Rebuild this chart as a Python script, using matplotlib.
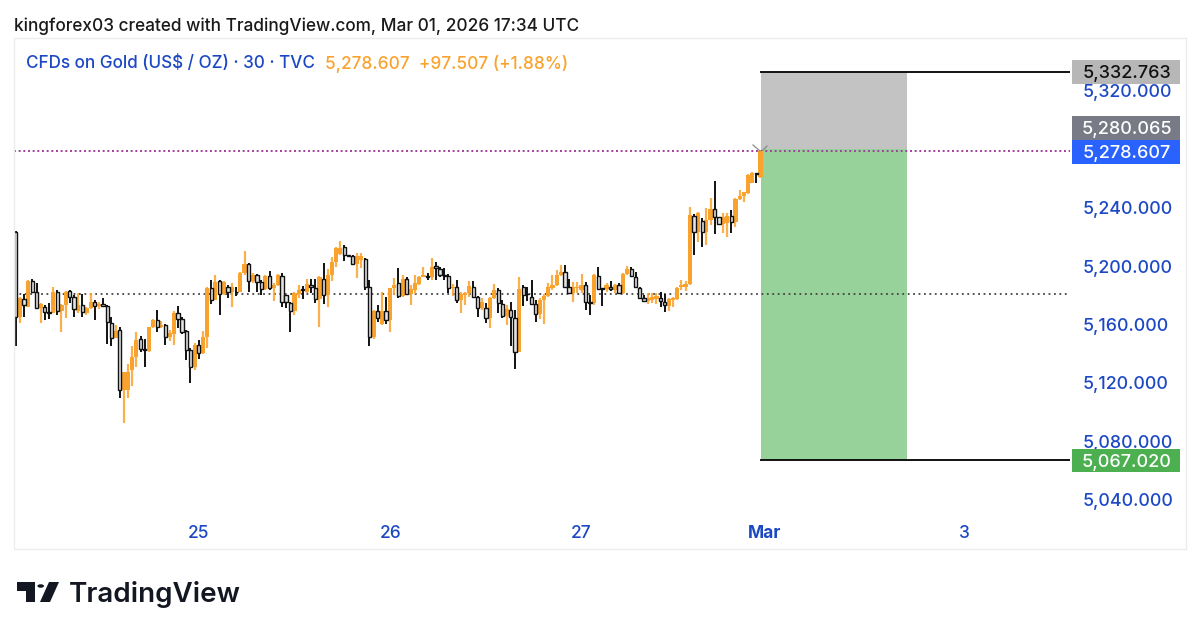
import matplotlib.pyplot as plt
from matplotlib.patches import Rectangle, Polygon, Circle

plt.rcParams["font.family"] = ["Inter", "DejaVu Sans"]

# 30 minute bars
opens = [5223.7, 5165.5, 5177.3, 5172.3, 5189.7, 5182, 5171.5, 5172, 5168.5, 5168,
         5182, 5169, 5173.5, 5183.3, 5178.7, 5169.4, 5173.2, 5168.2, 5171.2, 5175.5,
         5172.4, 5174.2, 5172.8, 5161, 5150.6, 5156, 5115, 5115, 5129, 5138,
         5150, 5143.3, 5142, 5158, 5163.2, 5158.6, 5159.5, 5151.3, 5153.6, 5167.8,
         5164, 5155.4, 5142.6, 5131.2, 5146, 5140.4, 5151.8, 5185, 5177, 5190,
         5181, 5186, 5182, 5182.6, 5182.6, 5195.6, 5201.5, 5190, 5194, 5189.4,
         5184.4, 5193, 5185, 5187.2, 5193.3, 5180.4, 5174.6, 5169, 5181, 5184.4,
         5182.6, 5187.2, 5184.9, 5177.6, 5191, 5180.3, 5194, 5203, 5208, 5213.4,
         5207.7, 5207, 5201.5, 5204.3, 5204.7, 5185.6, 5151.8, 5169, 5160.5, 5169.6,
         5163.2, 5184.9, 5188.3, 5179.6, 5191, 5181, 5183.7, 5187.9, 5192.9, 5193.3,
         5192.4, 5200.2, 5197.9, 5194, 5193.3, 5184.9, 5185.6, 5176.9, 5180.3, 5181.5,
         5186, 5178.7, 5171.6, 5171.2, 5164.8, 5178, 5183.7, 5174.2, 5166.2, 5170,
         5164.3, 5141.5, 5185.6, 5181, 5179.2, 5174.2, 5167.3, 5176.9, 5179.9, 5184.9,
         5187.2, 5194, 5195.8, 5185.6, 5181.9, 5184.9, 5183.7, 5187.2, 5175.3, 5175,
         5193.6, 5184.9, 5184.2, 5186, 5183.7, 5187.2, 5181.5, 5194.7, 5197.9, 5192.9,
         5184.9, 5178, 5176.2, 5176.9, 5177.3, 5178.5, 5175.7, 5173, 5176.9, 5177.6,
         5185.6, 5186, 5187.6, 5234.7, 5223.2, 5231.2, 5223.7, 5231.7, 5239, 5233.5,
         5229, 5229.4, 5234.4, 5230.5, 5245.8, 5248, 5250, 5256.8, 5263.6, 5261.4]
highs = [5224.4, 5179, 5181, 5190.6, 5191.5, 5188.8, 5175, 5173.5, 5175, 5185.6,
         5184, 5174, 5183.3, 5184, 5180.3, 5181.5, 5181, 5172, 5181.5, 5177,
         5175.7, 5178, 5173.5, 5165, 5159.8, 5158.6, 5127.8, 5133, 5145, 5155,
         5152, 5150, 5158.2, 5163.7, 5170, 5162.7, 5160.5, 5156.3, 5169, 5172.8,
         5165.5, 5156.3, 5143.8, 5147.2, 5149.5, 5155.7, 5185.6, 5190.6, 5194, 5190.6,
         5190, 5187.2, 5188.3, 5185.6, 5196.3, 5210.7, 5202, 5195, 5194.7, 5190.6,
         5194, 5197, 5188.3, 5194.7, 5195, 5180.5, 5175.7, 5182, 5187.2, 5186.5,
         5191, 5191, 5191, 5193.3, 5202.5, 5197.9, 5206, 5213, 5217.5, 5214.6,
         5207.8, 5207.7, 5208.9, 5208.9, 5205.9, 5190.6, 5170, 5173.5, 5182, 5179.2,
         5185.3, 5191.7, 5198.6, 5194, 5192.4, 5187.2, 5194, 5193.3, 5199.3, 5195.6,
         5205.4, 5203.1, 5199.3, 5198.6, 5194.7, 5187.9, 5190.6, 5182, 5182.6, 5189.9,
         5189.9, 5179.6, 5178, 5174.6, 5179.2, 5187.6, 5185.3, 5176.9, 5173.5, 5175.7,
         5170, 5192.9, 5187.2, 5186, 5190.6, 5176.9, 5178, 5181, 5188.8, 5194,
         5197.4, 5200.9, 5200.9, 5191.3, 5189.4, 5189.4, 5194.7, 5189.4, 5180.3, 5194.5,
         5199.7, 5185, 5188.3, 5190, 5187.9, 5188.3, 5195.2, 5200.4, 5199.3, 5196.3,
         5185.6, 5180.3, 5181.9, 5181.9, 5181.5, 5182.6, 5181, 5178.5, 5178.7, 5185.6,
         5190.6, 5190, 5240.4, 5235.8, 5237.4, 5232.8, 5239.7, 5246.5, 5258, 5234,
         5236.3, 5236.3, 5238.5, 5246.5, 5252.2, 5251, 5263.2, 5264.8, 5264, 5279.6]
lows = [5145.4, 5161, 5165.5, 5172, 5182, 5171, 5161, 5163, 5163.6, 5167.8,
        5166.6, 5155, 5164.3, 5174.6, 5165, 5168, 5165, 5166.6, 5171, 5163,
        5171, 5172.3, 5147, 5145, 5150.6, 5110, 5092.4, 5110, 5118, 5131,
        5141.5, 5131, 5141.5, 5157.5, 5155, 5157.5, 5146, 5148.4, 5146, 5157.5,
        5153.6, 5135.8, 5120.3, 5129, 5136.5, 5140, 5143.8, 5174, 5176.5, 5166.6,
        5180, 5178, 5172.3, 5179.6, 5182, 5194, 5182.6, 5188.3, 5182.6, 5180.3,
        5184, 5183.7, 5176, 5186.7, 5172.3, 5171.2, 5155.2, 5166.6, 5178, 5177.3,
        5181.5, 5181.5, 5174.6, 5158.6, 5174, 5171.9, 5190, 5199.7, 5207.7, 5203.8,
        5206.5, 5200.9, 5191.7, 5198.6, 5183.7, 5145.4, 5150, 5162, 5159.8, 5160.5,
        5155.2, 5180.3, 5178, 5178.7, 5180.3, 5173.5, 5181, 5187.2, 5192.4, 5190.6,
        5190.6, 5190.3, 5192.9, 5190.6, 5181.9, 5179.6, 5175, 5167.8, 5173.5, 5178.7,
        5178, 5165.5, 5170, 5160.9, 5157.5, 5177.6, 5168.2, 5164.3, 5159.8, 5145,
        5129.6, 5141, 5172.8, 5176, 5173.5, 5162, 5163.6, 5160.5, 5179.2, 5183.7,
        5186.7, 5193.6, 5184.9, 5181.5, 5175.3, 5181.5, 5181.5, 5170, 5166.6, 5173.5,
        5183.7, 5173, 5182.6, 5183.3, 5181.9, 5180.8, 5181, 5194, 5192.9, 5184.9,
        5177.6, 5175.7, 5174.2, 5175, 5174.2, 5172.3, 5168.4, 5169.6, 5172.3, 5176.9,
        5183.7, 5183.3, 5187, 5207.7, 5216.8, 5213.4, 5214.6, 5228.3, 5221.9, 5228.3,
        5222.6, 5220.3, 5222.6, 5226.7, 5245.4, 5244.2, 5249.5, 5256.8, 5256.8, 5260.2]
closes = [5165.5, 5178, 5173.2, 5190, 5182.6, 5171.6, 5174, 5168.5, 5168, 5182.6,
          5169, 5173.5, 5182.6, 5179.2, 5170.5, 5173.2, 5168.4, 5171.2, 5175.7, 5172.8,
          5174.2, 5172.8, 5161.6, 5150.6, 5155.7, 5115, 5127.3, 5127.8, 5138, 5149.5,
          5143.3, 5142.4, 5158, 5163.2, 5158.6, 5159.8, 5151.3, 5154, 5168.2, 5164,
          5155.2, 5142.6, 5131.2, 5146, 5140.4, 5151.8, 5185, 5177, 5189.4, 5181,
          5189.4, 5182, 5185.6, 5182.3, 5195.6, 5201.5, 5190, 5194, 5189.2, 5184.4,
          5193.3, 5185, 5187.2, 5194, 5175.3, 5175.3, 5169, 5181.5, 5183.7, 5183.7,
          5187.6, 5185.6, 5177.6, 5192.9, 5180.3, 5194, 5203, 5212.3, 5212.3, 5207.5,
          5207, 5201.5, 5207, 5207, 5186, 5151.8, 5169, 5164.8, 5169, 5163.2,
          5184.9, 5187.2, 5179.6, 5191.3, 5180.8, 5184.2, 5188.3, 5192.9, 5194, 5192.4,
          5199.7, 5198.6, 5194, 5193.3, 5184.9, 5186, 5176.9, 5181, 5181.9, 5186.5,
          5178.7, 5171.6, 5175.7, 5164.8, 5178, 5183.7, 5174.6, 5166.2, 5170.5, 5165,
          5141.5, 5184.6, 5180.3, 5180.8, 5174.2, 5167.3, 5176.9, 5179.9, 5185.6, 5187.2,
          5194, 5196.3, 5186, 5181.9, 5186, 5186, 5187.2, 5175.3, 5175, 5194,
          5184.4, 5184.2, 5187.2, 5184.2, 5187.2, 5181.5, 5194.7, 5197.9, 5193.3, 5185.6,
          5178, 5176.2, 5178, 5178.7, 5179.6, 5176.2, 5173.5, 5177.6, 5178, 5184.9,
          5187.2, 5187.6, 5235, 5223.2, 5236.3, 5223.7, 5231.7, 5239, 5234, 5228.7,
          5234, 5234.4, 5230.5, 5245.8, 5248, 5250.6, 5262.5, 5263.6, 5262.8, 5278.6]

price_ticks = [5040, 5080, 5120, 5160, 5200, 5240, 5320]
price_tick_labels = ["5,040.000", "5,080.000", "5,120.000", "5,160.000", "5,200.000", "5,240.000", "5,320.000"]
day_ticks = [44, 90, 136, 180, 228]
day_labels = ["25", "26", "27", "Mar", "3"]

prev_close = 5181.1
last_price = 5278.607
target_price = 5332.763
entry_price = 5280.065
stop_price = 5067.02
box_start = 179.1
box_end = 214.3

W, H = 1200, 635
ORANGE = "#f9a32e"
BLUE_TXT = "#1c48c4"


def fx(px):
    return px / W


def fy(py):
    return 1 - py / H


fig = plt.figure(figsize=(12, 6.35), dpi=100, facecolor="white")

# outer chart frame
fig.add_artist(Rectangle((fx(14), fy(549)), 1172 / W, 511 / H, transform=fig.transFigure,
                         facecolor="none", edgecolor="#ececec", linewidth=1))

ax = fig.add_axes([fx(14), fy(518), 1056 / W, 479 / H])
ax.set_xlim(-0.41, 253.4)
ax.set_ylim(5027.5, 5355.6)
for s in ax.spines.values():
    s.set_visible(False)

# long position boxes
ax.add_patch(Rectangle((box_start, entry_price), box_end - box_start, target_price - entry_price,
                       facecolor="#c3c3c3", edgecolor="none", zorder=1))
ax.add_patch(Rectangle((box_start, stop_price), box_end - box_start, entry_price - stop_price,
                       facecolor="#97d29b", edgecolor="none", zorder=1))
ax.plot([box_start, 253.4], [target_price, target_price], color="#111111", lw=1.4, zorder=2)
ax.plot([box_start, 253.4], [stop_price, stop_price], color="#111111", lw=1.4, zorder=2)

# previous close and last price lines
ax.axhline(prev_close, color="#444444", lw=1.3, ls=(0, (1, 2)), zorder=2)
ax.axhline(last_price, color="#a0409a", lw=1.4, ls=(0, (1, 1.4)), zorder=2)

# candles
for i in range(len(opens)):
    if closes[i] >= opens[i]:
        ax.vlines(i, lows[i], highs[i], color=ORANGE, lw=1.6, alpha=0.85, zorder=3)
        ax.bar(i, closes[i] - opens[i], bottom=opens[i], width=1.0, color=ORANGE, zorder=3)
for i in range(len(opens)):
    if closes[i] < opens[i]:
        ax.vlines(i, lows[i], highs[i], color="#111111", lw=1.4, zorder=4)
        ax.bar(i, opens[i] - closes[i], bottom=closes[i], width=0.8, facecolor="#e4e4e4",
               edgecolor="#111111", linewidth=1.0, zorder=5)

ax.yaxis.tick_right()
ax.set_yticks(price_ticks)
ax.set_yticklabels(price_tick_labels, fontsize=12.8, color=BLUE_TXT, fontweight="medium")
ax.tick_params(axis="y", length=0, pad=9)
ax.set_xticks(day_ticks)
ax.set_xticklabels(day_labels, fontsize=12.5, color=BLUE_TXT, fontweight="medium")
ax.get_xticklabels()[3].set_fontweight("bold")
ax.tick_params(axis="x", length=0, pad=5)


def tag(y0, y1, face, text_color, text):
    fig.add_artist(Rectangle((fx(1072), fy(y1)), 108 / W, (y1 - y0) / H, transform=fig.transFigure,
                             facecolor=face, edgecolor="none", zorder=5))
    fig.text(fx(1127), fy((y0 + y1) / 2), text, color=text_color, fontsize=13, fontweight="medium",
             ha="center", va="center_baseline", zorder=6)


tag(60, 84, "#b7b7b7", "#111111", "5,332.763")
tag(116, 140, "#787b86", "white", "5,280.065")
tag(140, 164, "#2962ff", "white", "5,278.607")
tag(449, 472, "#4caf50", "white", "5,067.020")

# small marks at the tip of the last candle
for xs, ys in [((753, 760), (145, 151)), ((763, 767), (150, 146))]:
    fig.add_artist(plt.Line2D([fx(xs[0]), fx(xs[1])], [fy(ys[0]), fy(ys[1])], color="#8a8a8a", lw=0.9))

fig.text(fx(14), fy(26), "kingforex03 created with TradingView.com, Mar 01, 2026 17:34 UTC",
         fontsize=12.4, color="#1a1a1a", va="center", fontweight="medium")
fig.text(fx(26), fy(64), "CFDs on Gold (US$ / OZ) · 30 · TVC", fontsize=12.3, color=BLUE_TXT, va="center",
         fontweight="medium")
fig.text(fx(325), fy(64), "5,278.607  +97.507 (+1.88%)", fontsize=12.4, color=ORANGE, va="center",
         fontweight="medium")

# TradingView logo
def pts(coords):
    return [(fx(x), fy(y)) for x, y in coords]


logo = "#131722"
fig.add_artist(Polygon(pts([(17, 582), (35, 582), (35, 602), (26, 602), (26, 591), (17, 591)]),
                       transform=fig.transFigure, facecolor=logo, edgecolor="none"))
fig.add_artist(Polygon(pts([(49, 582), (59, 582), (50, 602), (40, 602)]),
                       transform=fig.transFigure, facecolor=logo, edgecolor="none"))
fig.add_artist(Circle((fx(40.7), fy(586)), 3.3 / W, transform=fig.transFigure, facecolor=logo, edgecolor="none"))
fig.text(fx(69), fy(594), "TradingView", fontsize=20, fontweight="semibold", color=logo, va="center")

fig.savefig("out.png", dpi=100)
